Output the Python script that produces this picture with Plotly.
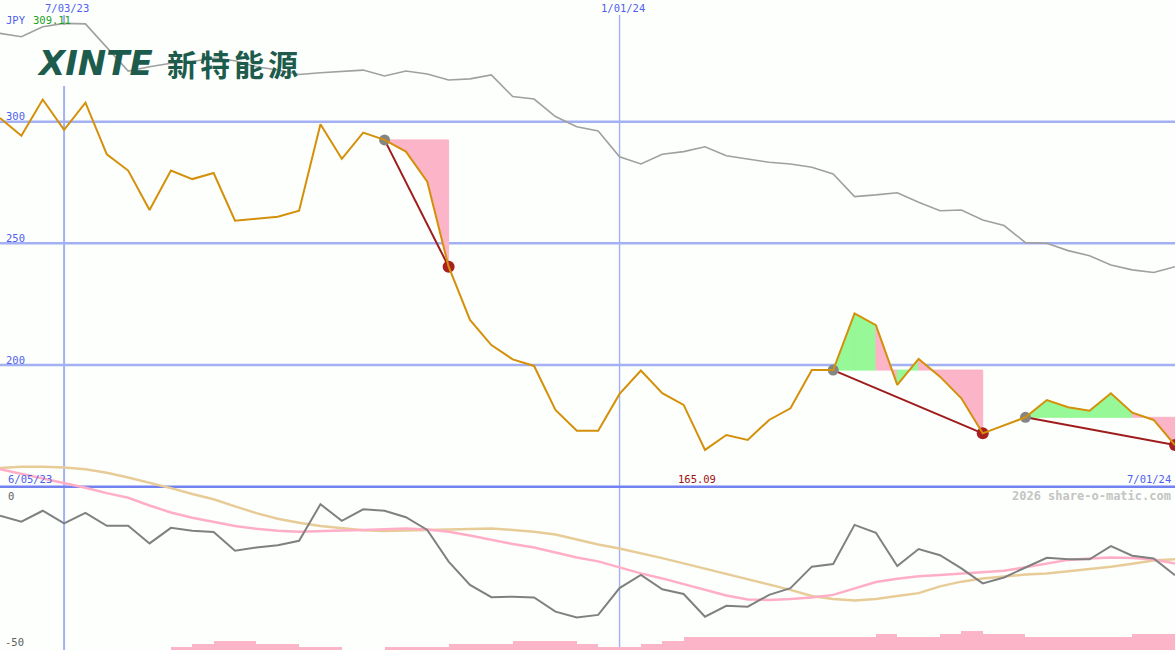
import pandas as pd
import plotly.graph_objects as go

# ---------------- data ----------------
week_start = "2023-06-12"
n_weeks = 56
dates = pd.date_range(week_start, periods=n_weeks, freq="7D")

price = [301.5, 294.2, 309.11, 296.6, 307.8, 286.6, 279.9, 263.7, 279.9, 276.4,
         278.9, 259.3, 260.1, 260.9, 263.4, 298.9, 284.7, 295.5, 292.5, 287.7,
         275.3, 240.4, 218.5, 208.2, 202.3, 199.6, 181.5, 173.0, 173.0, 188.1,
         197.7, 188.4, 183.6, 165.09, 171.2, 169.2, 177.4, 182.2, 197.9, 197.9,
         221.2, 216.4, 191.8, 202.5, 195.2, 186.3, 171.9, 175.3, 178.5, 185.6,
         182.6, 181.2, 188.4, 180.4, 177.4, 167.1]

index_line = [336.3, 334.9, 339.0, 340.4, 340.2, 330.5, 320.8, 322.6, 324.0, 324.7,
              326.1, 325.0, 322.6, 321.2, 319.4, 320.1, 320.6, 321.2, 318.8, 320.8,
              319.6, 317.1, 317.6, 319.2, 310.3, 309.3, 302.1, 297.9, 296.2, 285.6,
              282.6, 286.6, 287.7, 289.7, 286.0, 284.5, 283.3, 282.6, 281.3, 278.5,
              269.2, 269.9, 270.8, 266.9, 263.4, 263.7, 259.6, 257.3, 250.3, 250.0,
              247.0, 244.9, 241.1, 239.1, 238.0, 240.4]

oscillator = [-4.9, -6.9, -3.2, -7.5, -3.9, -8.3, -8.3, -14.3, -9.0, -10.0,
              -10.4, -16.8, -15.7, -14.9, -13.4, -1.0, -6.6, -2.7, -3.2, -5.4,
              -9.7, -20.5, -28.4, -32.6, -32.4, -32.7, -37.5, -39.5, -38.6, -29.5,
              -25.0, -29.9, -31.5, -39.2, -35.5, -35.8, -31.8, -29.5, -22.2, -21.3,
              -8.0, -10.7, -22.0, -16.2, -18.3, -22.8, -27.9, -25.9, -22.5, -19.2,
              -19.7, -19.7, -15.2, -18.5, -19.4, -25.1]

osc_fast = [10.9, 9.3, 7.8, 6.3, 4.6, 2.8, 1.2, -1.4, -3.8, -5.6,
            -7.1, -8.4, -9.3, -10.0, -10.3, -10.2, -9.9, -9.7, -9.4, -9.2,
            -9.6, -10.3, -11.6, -13.1, -14.5, -15.7, -17.4, -19.1, -20.4, -22.5,
            -24.5, -26.2, -28.1, -30.0, -32.0, -33.4, -33.5, -33.2, -32.7, -31.8,
            -29.5, -27.4, -26.3, -25.5, -25.0, -24.6, -24.2, -23.6, -22.4, -21.2,
            -19.9, -19.4, -19.1, -19.3, -19.8, -21.1]

osc_slow = [11.3, 11.8, 11.8, 11.5, 10.9, 9.7, 8.1, 6.4, 4.5, 2.5,
            0.7, -1.7, -4.0, -5.9, -7.3, -8.4, -9.2, -9.8, -10.1, -9.8,
            -9.7, -9.6, -9.3, -9.2, -9.7, -10.3, -11.3, -13.1, -14.7, -16.0,
            -17.6, -19.3, -21.1, -22.9, -24.8, -26.6, -28.3, -30.1, -32.2, -33.2,
            -33.7, -33.2, -32.2, -31.2, -28.9, -27.3, -26.2, -25.5, -24.9, -24.5,
            -23.8, -23.1, -22.2, -21.2, -20.1, -19.7]

volume = [0, 0, 0, 0, 0, 0, 0, 0, 1, 2,
          3, 3, 2, 2, 1, 1, 0, 0, 1, 1,
          1, 2, 2, 2, 3, 3, 3, 2, 1, 1,
          2, 3, 4, 4, 4, 4, 4, 4, 4, 4,
          4, 5, 4, 4, 5, 6, 5, 5, 4, 4,
          4, 4, 4, 5, 5, 5]

signal_start = [18, 39, 48]
signal_end = [21, 46, 55]

grid_prices = [300, 250, 200]
base_price = 150
grid_dates = ["2023-07-03", "2024-01-01"]
grid_date_labels = ["7/03/23", "1/01/24"]

# ---------------- style ----------------
W, H = 1175, 650
BG = "#fcfffc"
GRID = "#a3b0f4"
BLUE_TXT = "#5060ee"
ORANGE = "#d4900a"
PINK = "#fbb4c8"
GREEN = "#96f896"
DARKRED = "#a01c1c"
LOGO = "#1d5c4c"
MONO = "DejaVu Sans Mono"


def px(x):
    return x / W


def py(y):
    return 1 - y / H


fig = go.Figure()

# volume bars (own axis)
fig.add_trace(go.Bar(
    x=dates, y=volume, yaxis="y3", marker=dict(color=PINK, line=dict(width=0)),
    width=7 * 86400000, offset=0, hoverinfo="skip"))

# lower panel lines
fig.add_trace(go.Scatter(x=dates, y=osc_slow, yaxis="y2", mode="lines",
                         line=dict(color="#e8cc98", width=2.5), hoverinfo="skip"))
fig.add_trace(go.Scatter(x=dates, y=osc_fast, yaxis="y2", mode="lines",
                         line=dict(color="#ffaec6", width=2.5), hoverinfo="skip"))
fig.add_trace(go.Scatter(x=dates, y=oscillator, yaxis="y2", mode="lines",
                         line=dict(color="#808080", width=2), hoverinfo="skip"))

# index line
fig.add_trace(go.Scatter(x=dates, y=index_line, mode="lines",
                         line=dict(color="#a0a0a0", width=1.6), hoverinfo="skip"))

# signal fills
for s, e in zip(signal_start, signal_end):
    base = price[s]
    for i in range(s, e):
        col = GREEN if price[i + 1] > base else PINK
        fig.add_trace(go.Scatter(
            x=[dates[i], dates[i], dates[i + 1], dates[i + 1], dates[i]],
            y=[base, price[i], price[i + 1], base, base],
            mode="lines", fill="toself", fillcolor=col,
            line=dict(width=1, color=col), hoverinfo="skip"))

# signal connecting lines
for s, e in zip(signal_start, signal_end):
    fig.add_trace(go.Scatter(x=[dates[s], dates[e]], y=[price[s], price[e]],
                             mode="lines", line=dict(color=DARKRED, width=2),
                             hoverinfo="skip"))

fig.add_trace(go.Scatter(x=[dates[s] for s in signal_start],
                         y=[price[s] for s in signal_start], mode="markers",
                         marker=dict(color="#858585", size=11), hoverinfo="skip"))
fig.add_trace(go.Scatter(x=[dates[e] for e in signal_end],
                         y=[price[e] for e in signal_end], mode="markers",
                         marker=dict(color="#a82020", size=12), hoverinfo="skip"))

# price line
fig.add_trace(go.Scatter(x=dates, y=price, mode="lines",
                         line=dict(color=ORANGE, width=2), hoverinfo="skip"))

# ---------------- shapes ----------------
shapes = []
for g in grid_prices:
    shapes.append(dict(type="line", xref="paper", yref="y", x0=0, x1=1, y0=g, y1=g,
                       line=dict(color=GRID, width=2.5), layer="below"))
for d, w in zip(grid_dates, [2, 1.4]):
    shapes.append(dict(type="line", xref="x", yref="paper", x0=d, x1=d,
                       y0=0, y1=py(15), line=dict(color=GRID, width=w), layer="below"))
shapes.append(dict(type="line", xref="paper", yref="y", x0=0, x1=1,
                   y0=base_price, y1=base_price,
                   line=dict(color="#7282f0", width=2.5), layer="below"))
# logo backing
shapes.append(dict(type="rect", xref="paper", yref="paper", x0=px(30), x1=px(305),
                   y0=py(86), y1=py(25), fillcolor=BG, line=dict(width=0), layer="below"))

# ---------------- annotations ----------------
ann = []


def add_text(text, x, y, color, size=10.5, anchor="left", bold=False,
             family=MONO, italic=False):
    ann.append(dict(text=text, x=x, y=py(y), xref="paper", yref="paper",
                    xanchor=anchor, yanchor="middle", showarrow=False,
                    font=dict(family=family, size=size, color=color,
                              weight="bold" if bold else "normal",
                              style="italic" if italic else "normal")))


for d, lab in zip(grid_dates, grid_date_labels):
    ann.append(dict(text=lab, x=d, y=py(8), xref="x", yref="paper", xanchor="center",
                    yanchor="middle", xshift=3, showarrow=False,
                    font=dict(family=MONO, size=10.5, color=BLUE_TXT)))

add_text("JPY", px(4), 20, BLUE_TXT)
add_text(f"{max(price):.2f}", px(31), 20, "#20a020")
for g, yy in zip(grid_prices, [116, 238, 360]):
    add_text(str(g), px(4), yy, BLUE_TXT)

add_text("6/05/23", px(6), 479, BLUE_TXT)
ann.append(dict(text=f"{min(price):.2f}", x=dates[price.index(min(price))], y=py(479),
                xref="x", yref="paper", xanchor="center", yanchor="middle", xshift=-8,
                showarrow=False, font=dict(family=MONO, size=10.5, color="#a01010")))
add_text("7/01/24", px(1173), 479, BLUE_TXT, anchor="right")
add_text("2026 share-o-matic.com", px(1173), 496, "#c4c4c4", size=12, anchor="right",
         bold=True)
add_text("0", px(6), 496, "#606060")
add_text("-50", px(3), 642, "#606060")

# logo
add_text("XINTE", px(95), 63, LOGO, size=34, anchor="center", bold=True,
         family="DejaVu Sans", italic=True)
for ch, cx in zip("新特能源", [182, 215, 249, 283]):
    add_text(ch, px(cx), 63, LOGO, size=30, anchor="center", bold=True,
             family="Noto Sans CJK SC")

fig.update_layout(
    width=W, height=H, autosize=False,
    margin=dict(l=0, r=0, t=0, b=0),
    paper_bgcolor=BG, plot_bgcolor=BG,
    showlegend=False, bargap=0,
    xaxis=dict(range=[dates[0], dates[-1]], visible=False, fixedrange=True),
    yaxis=dict(range=[82.86, 350.0], visible=False, fixedrange=True),
    yaxis2=dict(range=[-50.54, 170.46], overlaying="y", visible=False, fixedrange=True),
    yaxis3=dict(range=[0, 206], overlaying="y", visible=False, fixedrange=True),
    shapes=shapes, annotations=ann,
)

fig.write_html("out.html", config={"displayModeBar": False},
               post_script="document.body.style.margin='0';document.body.style.background='" + BG + "';")
